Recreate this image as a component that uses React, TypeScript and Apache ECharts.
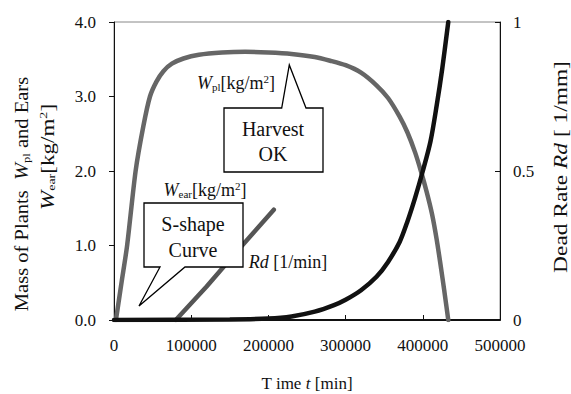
import React, { useEffect, useRef } from "react";
import * as echarts from "echarts";

const xTicks = [0, 100000, 200000, 300000, 400000, 500000];
const plTime = [2500, 10000, 17000, 28000, 38000, 46600, 55000, 64000, 75000, 90000, 110000, 140000, 170000, 200000, 230000, 260000, 280000, 300000, 320000, 340000, 355000, 370000, 380000, 390000, 397500, 405000, 412000, 418000, 423000, 428000, 433000];
const plMass = [0, 0.52, 1.0, 2.0, 2.6, 3.0, 3.2, 3.34, 3.44, 3.51, 3.56, 3.59, 3.6, 3.59, 3.57, 3.53, 3.48, 3.42, 3.32, 3.15, 2.98, 2.73, 2.52, 2.25, 2.0, 1.72, 1.42, 1.08, 0.74, 0.38, 0];
const earTime = [80000, 120000, 160000, 207000];
const earMass = [0, 0.45, 0.93, 1.48];
const rdTime = [0, 150000, 200000, 230000, 260000, 285000, 300000, 320000, 340000, 355000, 370000, 380000, 390000, 400000, 410000, 418000, 425000, 433000];
const rdRate = [0, 0.002, 0.005, 0.012, 0.028, 0.05, 0.068, 0.1, 0.145, 0.195, 0.262, 0.33, 0.41, 0.5, 0.6, 0.72, 0.84, 1.0];

const FONT = "Liberation Serif";

function txt(x: number, y: number, text: string, size: number, rotation = 0, stretch = 1) {
  return {
    type: "text",
    x,
    y,
    rotation,
    scaleX: stretch,
    silent: true,
    z: 100,
    style: {
      text,
      x: 0,
      y: 0,
      fill: "#111",
      fontSize: size,
      fontFamily: FONT,
      align: "center",
      verticalAlign: "middle",
      textAlign: "center",
      textVerticalAlign: "middle",
      rich: {
        i: { fontStyle: "italic", fontFamily: FONT, fontSize: size, fill: "#111" },
        n: { fontFamily: FONT, fontSize: size, fill: "#111" },
        sub: { fontFamily: FONT, fontSize: 11, padding: [8, 0, 0, 0], fill: "#111" },
        sup: { fontFamily: FONT, fontSize: 11, padding: [0, 0, 9, 0], fill: "#111" },
      },
    },
  };
}

function callout(points: number[][]) {
  return {
    type: "polygon",
    z: 90,
    silent: true,
    shape: { points },
    style: { fill: "#fff", stroke: "#000", lineWidth: 1.3 },
  };
}

export default function App() {
  const ref = useRef<HTMLDivElement>(null);
  useEffect(() => {
    if (!ref.current) return;
    const chart = echarts.init(ref.current, undefined, { renderer: "svg" });
    const pl = plTime.map((t, i) => [t, plMass[i]]);
    const ear = earTime.map((t, i) => [t, earMass[i]]);
    const rd = rdTime.map((t, i) => [t, rdRate[i]]);
    const labelStyle = { color: "#111", fontFamily: FONT, fontSize: 17 };
    chart.setOption({
      animation: false,
      backgroundColor: "#fff",
      grid: {
        left: 114,
        right: 71,
        top: 22,
        bottom: 74,
        show: true,
        borderColor: "#888",
        borderWidth: 1,
        backgroundColor: "transparent",
      },
      xAxis: {
        type: "value",
        min: 0,
        max: 500000,
        interval: 100000,
        axisLine: { show: true, onZero: false, lineStyle: { color: "#111", width: 2 } },
        axisTick: { show: true, inside: true, length: 5, lineStyle: { color: "#111" } },
        splitLine: { show: false },
        axisLabel: {
          ...labelStyle,
          margin: 17,
          formatter: (v: number) => String(v),
          customValues: xTicks,
        },
      },
      yAxis: [
        {
          type: "value",
          min: 0,
          max: 4,
          interval: 1,
          position: "left",
          axisLine: { show: true, onZero: false, lineStyle: { color: "#111", width: 1 } },
          axisTick: { show: true, inside: false, length: 5, lineStyle: { color: "#111" } },
          splitLine: { show: false },
          axisLabel: { ...labelStyle, margin: 18, formatter: (v: number) => v.toFixed(1) },
        },
        {
          type: "value",
          min: 0,
          max: 1,
          interval: 0.5,
          position: "right",
          axisLine: { show: true, onZero: false, lineStyle: { color: "#111", width: 1 } },
          axisTick: { show: true, inside: true, length: 5, lineStyle: { color: "#111" } },
          splitLine: { show: false },
          axisLabel: { ...labelStyle, margin: 13 },
        },
      ],
      series: [
        {
          type: "line",
          name: "Wpl",
          data: pl,
          yAxisIndex: 0,
          showSymbol: false,
          smooth: 0.25,
          lineStyle: { color: "#666", width: 4.5, cap: "round" },
          z: 3,
        },
        {
          type: "line",
          name: "Wear",
          data: ear,
          yAxisIndex: 0,
          showSymbol: false,
          lineStyle: { color: "#555", width: 4.5, cap: "round" },
          z: 3,
        },
        {
          type: "line",
          name: "Rd",
          data: rd,
          yAxisIndex: 1,
          showSymbol: false,
          smooth: 0.3,
          lineStyle: { color: "#111", width: 4.5, cap: "round" },
          z: 4,
        },
      ],
      graphic: [
        callout([[224, 108], [281.7, 108], [289.3, 65], [306, 108], [323, 108], [323, 172], [224, 172]]),
        callout([[144, 203], [243, 203], [243, 267], [185, 267], [139, 306], [160, 267], [144, 267]]),
        txt(236, 83, "{i|W}{sub|pl}{n|[kg/m}{sup|2}{n|]}", 18),
        txt(273, 129, "{n|Harvest}", 20),
        txt(273, 154, "{n|OK}", 20),
        txt(205, 190, "{i|W}{sub|ear}{n|[kg/m}{sup|2}{n|]}", 18),
        txt(193, 224, "{n|S-shape}", 20),
        txt(193, 250, "{n|Curve}", 20),
        txt(288, 262, "{i|Rd}{n| [1/min]}", 18),
        txt(307, 383, "{n|T ime }{i|t}{n| [min]}", 17),
        txt(22, 194, "{n|Mass of Plants  }{i|W}{sub|pl}{n| and Ears}", 18, Math.PI / 2, 1.14),
        txt(48, 157, "{i|W}{sub|ear}{n|[kg/m}{sup|2}{n|]}", 18, Math.PI / 2, 1.28),
        txt(561, 167, "{n|Dead Rate }{i|Rd}{n| [ 1/mm]}", 18, Math.PI / 2, 1.3),
      ],
    });
    return () => chart.dispose();
  }, []);
  return (
    <div
      ref={ref}
      style={{ position: "fixed", left: 0, top: 0, width: 571, height: 394, background: "#fff" }}
    />
  );
}
